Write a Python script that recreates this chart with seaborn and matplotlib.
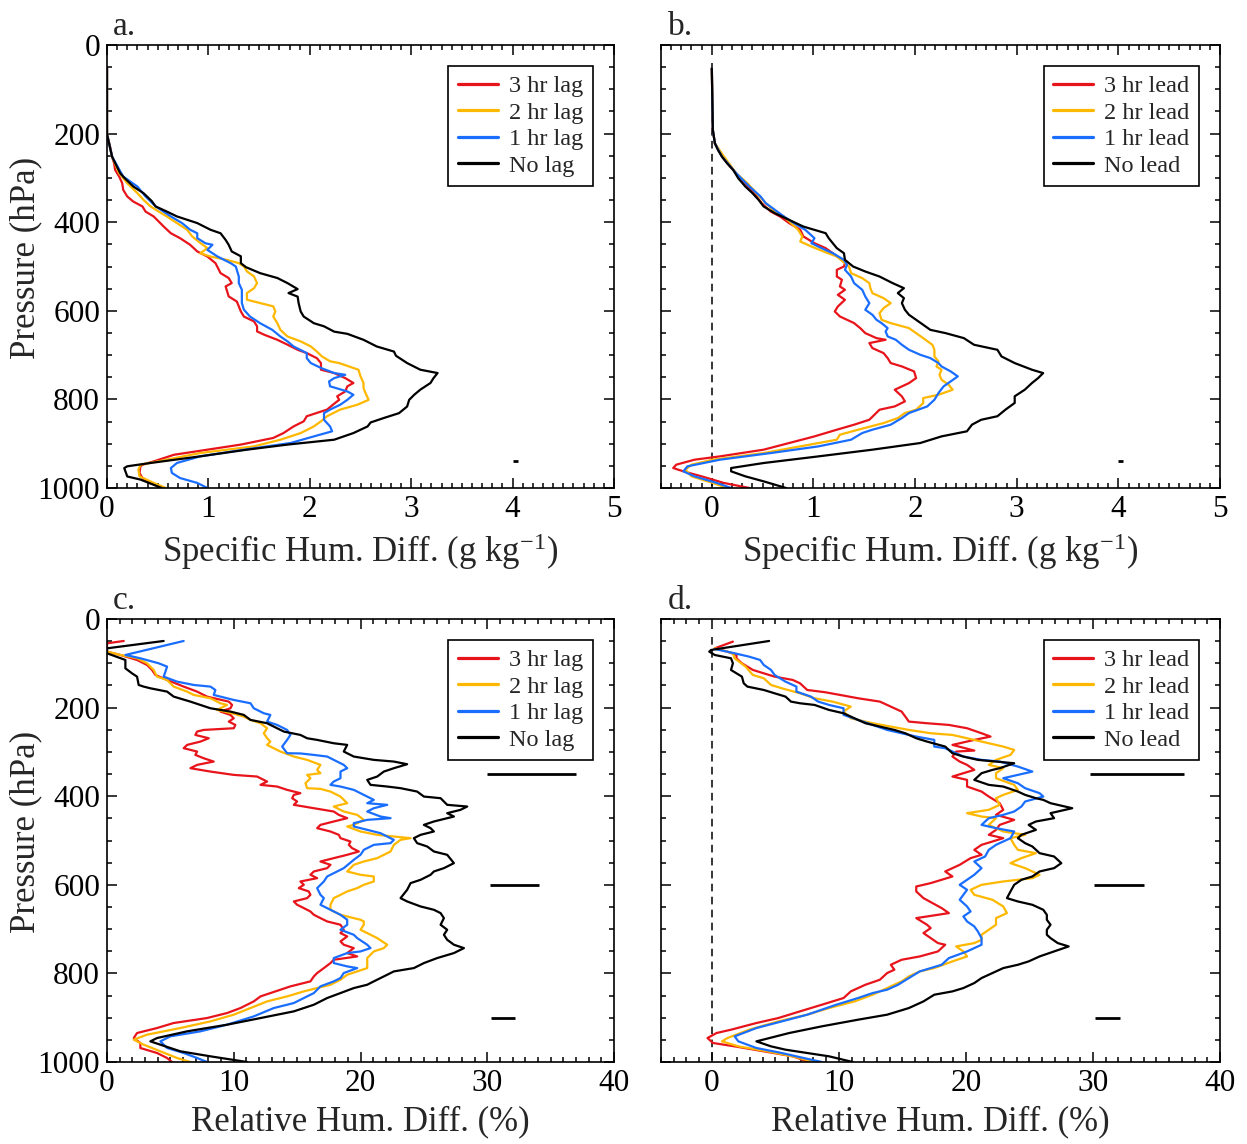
import numpy as np
import pandas as pd
import matplotlib
matplotlib.use("Agg")
import matplotlib.pyplot as plt
from matplotlib.lines import Line2D
from matplotlib.ticker import MultipleLocator, FixedLocator
import seaborn as sns

# ---------------- data: (pressure hPa, value) pairs ----------------
LAG_LABELS = ["3 hr lag", "2 hr lag", "1 hr lag", "No lag"]
LEAD_LABELS = ["3 hr lead", "2 hr lead", "1 hr lead", "No lead"]
COLORS = ["#E8141B", "#FFB800", "#1A6EFF", "#000000"]

# panel a: specific humidity difference (g/kg), lag
A_RED = [(51,0),(201.5,0),(229,0.03),(252,0.05),(267,0.07),(282,0.08),(297,0.12),(312,0.15),(327,0.16),(342,0.20),
         (353.5,0.26),(364.5,0.35),(376,0.38),(387,0.46),(398.5,0.51),(410,0.56),(425,0.63),(436,0.72),(451,0.82),(466,0.89),
         (477.5,0.99),(492.5,1.07),(501.5,1.09),(515,1.12),(526,1.20),(537.5,1.23),(545,1.17),(552.5,1.18),(567.5,1.20),(579,1.28),
         (590,1.30),(601.5,1.32),(613,1.35),(624,1.45),(635,1.48),(646.5,1.48),(654,1.55),(665.5,1.68),(676.5,1.78),(688,1.88),
         (695.5,1.97),(707,2.07),(718,2.11),(733,2.11),(740.5,2.24),(752,2.35),(763,2.43),(770.5,2.37),(782,2.35),(793,2.27),
         (801,2.29),(808,2.25),(823,2.17),(838,1.97),(849.5,1.94),(861,1.84),(876,1.74),(887,1.64),(902,1.32),(913.5,0.99),
         (925,0.66),(940,0.46),(947.5,0.35),(951,0.33),(966,0.32),(977.5,0.35),(988.5,0.43),(1000,0.56)]
A_ORANGE = [(51,0),(201.5,0),(252,0.05),(289.5,0.12),(312,0.20),(334.5,0.30),(349.5,0.36),(364.5,0.43),(376,0.51),(387,0.59),
            (402,0.69),(417,0.79),(432,0.84),(447,0.92),(458.5,0.99),(470,0.92),(477.5,1.02),(485,1.18),(492.5,1.30),(500,1.35),
            (511,1.38),(522.5,1.45),(537.5,1.48),(549,1.45),(560,1.38),(575,1.38),(582.5,1.51),(590,1.64),(601.5,1.66),(613,1.64),
            (628,1.68),(643,1.71),(658,1.78),(669,1.91),(680.5,2.01),(692,2.07),(703,2.12),(714,2.20),(718,2.29),(733,2.48),
            (748,2.50),(763,2.53),(774.5,2.53),(786,2.55),(801,2.58),(812,2.47),(823,2.30),(838,2.17),(849.5,2.11),(861,2.04),
            (876,1.91),(891,1.71),(906,1.45),(921,0.92),(936,0.59),(947.5,0.33),(958.5,0.31),(973.5,0.32),(988.5,0.46),(1000,0.58)]
A_BLUE = [(51,0),(201.5,0),(252,0.05),(297,0.16),(319.5,0.30),(342,0.38),(364.5,0.48),(387,0.63),(402,0.74),(417,0.82),
          (425,0.89),(436,0.89),(447.5,0.97),(451,1.04),(462.5,0.99),(477.5,1.09),(492.5,1.22),(500,1.27),(507.5,1.28),(522.5,1.30),
          (537.5,1.30),(552.5,1.33),(567.5,1.33),(582.5,1.33),(597.5,1.35),(613,1.41),(628,1.51),(643,1.63),(658,1.71),(669,1.78),
          (680.5,1.84),(695.5,1.97),(707,1.97),(718,2.01),(729,2.11),(740.5,2.24),(744.5,2.35),(752,2.24),(759.5,2.19),(770.5,2.20),
          (782,2.37),(789.5,2.43),(801,2.37),(812,2.30),(823,2.20),(831,2.14),(846,2.14),(861,2.20),(872,2.22),(883.5,2.04),
          (898.5,1.81),(913.5,1.35),(928.5,0.92),(943.5,0.69),(955,0.63),(966,0.64),(977.5,0.72),(988.5,0.89),(1000,0.99)]
A_BLACK = [(51,0),(201.5,0),(252,0.05),(289.5,0.13),(302,0.18),(319.5,0.26),(334.5,0.36),(352,0.44),(364.5,0.48),(376,0.59),
           (387,0.69),(402,0.89),(417,1.02),(425,1.12),(440,1.17),(451,1.20),(466,1.23),(477,1.32),(492.5,1.32),(501.5,1.37),
           (515,1.51),(526,1.68),(537.5,1.78),(551,1.88),(560,1.79),(568,1.88),(583,1.89),(601.5,1.91),(613,1.94),(628,2.04),
           (635,2.14),(647,2.24),(652,2.37),(665.5,2.53),(680.5,2.66),(692,2.83),(701.5,2.85),(718,2.96),(733,3.09),(740.5,3.26),
           (752,3.22),(763,3.19),(778,3.09),(789.5,3.03),(801,2.98),(816,2.96),(831,2.88),(842,2.73),(852,2.60),(861,2.57),
           (876,2.43),(891,2.24),(902,1.78),(913.5,1.38),(928.5,0.92),(943.5,0.43),(951,0.20),(955,0.17),(974,0.20),(981,0.33),
           (1000,0.54)]

# panel b: specific humidity difference (g/kg), lead
B_RED = [(52.6,0),(191.7,0.01),(221.8,0.03),(252,0.10),(282,0.21),(304.5,0.30),(327,0.39),(342,0.44),(357,0.49),(376,0.58),
         (387,0.67),(402,0.76),(417,0.87),(432,0.90),(447.4,1.01),(458.6,1.12),(470,1.19),(485,1.28),(492.5,1.31),(500,1.30),
         (507.5,1.23),(522.6,1.23),(530,1.28),(545,1.26),(552.6,1.31),(564,1.24),(575.2,1.31),(590.2,1.24),(601.5,1.21),(612.8,1.26),
         (620.3,1.33),(627.8,1.40),(639.1,1.46),(650.4,1.51),(661.7,1.62),(665.4,1.71),(672.9,1.55),(684.2,1.58),(695.5,1.69),(706.8,1.73),
         (718,1.76),(725.6,1.87),(736.8,1.99),(751.9,2.01),(763.2,1.94),(778.2,1.80),(793.2,1.87),(804.5,1.90),(815.8,1.80),(823.3,1.65),
         (834.6,1.60),(845.9,1.55),(857.1,1.40),(868.4,1.23),(883.5,1.01),(898.5,0.76),(913.5,0.51),(928.6,0.08),(936.1,-0.17),(947.4,-0.35),
         (954.9,-0.38),(962.4,-0.28),(973.7,-0.10),(988.7,0.12),(1000,0.37)]
B_ORANGE = [(52.6,0),(191.7,0.01),(221.8,0.03),(252,0.12),(289.5,0.24),(312,0.35),(334.6,0.44),(357,0.53),(375.9,0.62),(387.2,0.71),
            (402.3,0.78),(417.3,0.85),(432.3,0.89),(443.6,0.87),(454.9,0.98),(466.2,1.10),(477.4,1.23),(492.5,1.31),(500,1.35),(515,1.37),
            (526.3,1.48),(537.6,1.55),(548.9,1.56),(560.2,1.58),(571.4,1.69),(582.7,1.76),(594,1.69),(605.3,1.65),(620.3,1.67),(627.8,1.76),
            (639.1,1.94),(650.4,2.01),(661.7,2.08),(676.7,2.17),(688,2.19),(703,2.19),(714.3,2.23),(725.6,2.21),(733.1,2.26),(744.4,2.24),
            (755.6,2.26),(766.9,2.33),(778.2,2.37),(789.5,2.23),(797,2.08),(808.3,2.08),(823.3,2.01),(830.8,1.90),(842.1,1.83),(853.4,1.69),
            (868.4,1.44),(879.7,1.26),(891,1.23),(906,0.87),(921.1,0.51),(936.1,0.01),(947.4,-0.20),(958.6,-0.26),(973.7,-0.20),(988.7,0.01),
            (1000,0.15)]
B_BLUE = [(52.6,0),(191.7,0.01),(221.8,0.03),(252,0.10),(289.5,0.24),(319.5,0.37),(342,0.48),(357,0.53),(372,0.62),(387.2,0.71),
          (402.3,0.81),(417.3,0.92),(436.1,1.01),(447.4,0.98),(458.6,1.08),(469.9,1.19),(485,1.30),(496.2,1.33),(507.5,1.31),(522.6,1.37),
          (537.6,1.40),(552.6,1.48),(567.7,1.51),(582.7,1.55),(597.7,1.51),(609,1.58),(620.3,1.62),(627.8,1.67),(639.1,1.73),(646.6,1.71),
          (657.9,1.73),(665.4,1.81),(676.7,1.87),(688,1.94),(699.2,2.05),(706.8,2.15),(718,2.23),(725.6,2.26),(736.8,2.35),(748.1,2.42),
          (759.4,2.35),(770.7,2.28),(785.7,2.23),(800.8,2.19),(815.8,2.12),(830.8,1.94),(842.1,1.87),(857.1,1.76),(868.4,1.58),(875.9,1.48),
          (891,1.37),(906,1.05),(921.1,0.58),(936.1,0.08),(951.1,-0.24),(962.4,-0.28),(973.7,-0.17),(988.7,0.05),(1000,0.19)]
B_BLACK = [(52.6,0),(191.7,0.01),(221.8,0.03),(236.8,0.06),(252,0.10),(267,0.15),(282,0.21),(300.8,0.26),(319.5,0.33),(334.5,0.40),
           (349.5,0.46),(364.5,0.51),(379.7,0.62),(394.7,0.76),(409.8,0.90),(417.3,1.01),(424.8,1.12),(436,1.15),(447.4,1.19),(458.6,1.23),
           (470,1.30),(485,1.31),(500,1.39),(511.3,1.51),(522.6,1.65),(537.6,1.78),(548.9,1.89),(560,1.83),(571.4,1.89),(582.7,1.87),
           (597.7,1.90),(609,1.94),(620.3,2.01),(631.6,2.08),(643,2.15),(650.4,2.30),(661.7,2.48),(676.7,2.58),(688,2.81),(703,2.85),
           (718,2.98),(733,3.15),(740.6,3.26),(752,3.21),(763,3.15),(778,3.08),(793,2.98),(808,2.98),(823,2.89),(838,2.81),
           (846,2.65),(857,2.56),(872,2.51),(883.5,2.26),(898.5,2.05),(913.5,1.58),(928.6,1.05),(943.6,0.51),(954.9,0.19),(962.4,0.19),
           (973.7,0.33),(985,0.51),(1000,0.73)]

# panel c: relative humidity difference (%), lag
C_RED = [(49.6,1.32),(54.9,0),(73.7,0),(81.2,1.05),(92.5,2.37),(103.8,3.16),(115,3.55),(126.3,3.82),(137.6,4.74),(152.6,6.05),
         (163.9,7.11),(175.2,7.89),(186.5,9.61),(194,9.87),(201.5,9.74),(209,8.95),(216.5,9.74),(224.1,10.0),(231.6,9.61),(239.1,10.13),
         (246.6,10.0),(250.4,7.63),(254.1,7.11),(261.7,6.97),(269.2,8.03),(276.7,7.37),(284.2,6.32),(291.7,6.05),(299.2,7.11),(306.8,6.97),
         (314.3,7.63),(321.8,8.42),(329.3,7.11),(336.8,6.58),(344.4,8.16),(351.9,10.0),(355.6,11.84),(366.9,12.63),(374.4,12.11),(378.2,13.42),
         (385.7,14.21),(393.2,15.26),(397,14.74),(404.5,14.61),(412,15.0),(419.5,14.74),(427.1,16.32),(434.6,17.89),(442.1,18.29),(449.6,18.95),
         (457.1,17.89),(464.7,16.84),(472.2,16.58),(479.7,17.63),(487.2,18.29),(494.7,18.42),(502.3,19.21),(509.8,19.08),(517.3,19.34),(524.8,19.87),
         (532.3,18.95),(539.8,17.89),(547.4,16.84),(554.9,17.63),(562.4,17.37),(569.9,16.32),(577.4,16.05),(585,16.58),(592.5,15.26),(600,15.53),
         (607.5,15.13),(615,15.92),(622.6,16.05),(630.1,15.79),(637.6,14.74),(645.1,15.0),(652.6,15.53),(660.2,16.05),(667.7,16.32),(675.2,16.84),
         (682.7,17.37),(690.2,18.42),(701.5,18.68),(709,18.42),(716.5,18.95),(727.8,18.42),(735.3,18.68),(742.9,19.47),(754.1,18.95),(761.7,19.74),
         (769.2,17.89),(776.7,17.63),(788,17.11),(799.2,16.58),(806.8,16.32),(818,16.05),(829.3,14.47),(840.6,13.29),(851.9,12.11),(863.2,11.58),
         (878.2,10.53),(889.5,9.47),(900.8,7.89),(912,5.26),(923.3,3.95),(934.6,2.37),(945.9,2.11),(957.1,2.63),(968.4,2.63),(979.7,3.95),
         (991,4.74),(1000,5.13)]
C_ORANGE = [(73.7,0),(81.2,1.05),(88.7,2.37),(100,3.16),(115,3.68),(130.1,3.95),(137.6,4.74),(152.6,5.26),(163.9,6.32),(171.4,6.84),
            (178.9,8.16),(190.2,8.95),(194,9.47),(205.3,8.68),(212.8,9.87),(220.3,10.79),(227.8,11.32),(235.3,12.11),(246.6,12.63),(257.9,12.37),
            (269.2,12.63),(276.7,12.89),(284.2,12.63),(299.2,13.68),(310.5,14.74),(318,15.79),(329.3,16.84),(340.6,16.58),(348.1,16.84),(351.9,15.79),
            (359.4,16.05),(370.7,15.66),(381.9,15.79),(383.5,16.84),(389.5,17.63),(400.8,18.42),(415.8,18.95),(423.3,17.89),(434.6,18.68),(442.1,19.74),
            (453.4,20.26),(464.7,19.47),(468.4,18.95),(479.7,20.0),(487.2,21.32),(491,22.63),(494.7,23.95),(498.5,23.16),(509.8,22.63),(524.8,22.37),
            (539.8,21.32),(547.4,20.26),(554.9,19.47),(562.4,19.21),(569.9,18.95),(577.4,20.0),(581.2,21.05),(592.5,21.05),(600,20.26),(607.5,19.74),
            (615,18.95),(622.6,18.42),(630.1,17.89),(645.1,17.63),(656.4,17.63),(667.7,18.42),(675.2,19.47),(678.9,20.0),(682.7,20.26),(690.2,20.26),
            (701.5,20.0),(709,20.53),(720.3,21.32),(735.3,22.11),(742.9,21.84),(750.4,21.05),(765.4,20.53),(780.5,20.53),(788,20.53),(795.5,19.74),
            (803,18.95),(814.3,18.42),(825.6,17.63),(833.1,16.58),(840.6,15.53),(851.9,14.21),(863.2,12.63),(878.2,11.32),(893.2,10.0),(908.3,8.16),
            (923.3,5.79),(938.3,3.16),(949.6,2.11),(960.9,2.89),(975.9,4.21),(991,5.53),(1000,6.58)]
C_BLUE = [(49.6,6.05),(81.2,1.45),(88.7,2.63),(100,4.08),(107.5,4.74),(118.8,4.61),(130.1,4.47),(141.4,5.53),(148.9,6.84),(152.6,8.16),
          (160.2,8.55),(171.4,8.42),(178.9,9.47),(182.7,10.0),(190.2,11.32),(201.5,11.58),(212.8,12.37),(216.5,12.89),(231.6,12.63),(239.1,13.42),
          (250.4,14.21),(261.7,14.47),(272.9,14.21),(288,13.82),(303,14.21),(303.5,15.26),(306.8,16.32),(310.5,17.37),(318,17.89),(329.3,18.68),
          (336.8,18.95),(344.4,18.42),(359.4,18.42),(366.9,17.89),(374.4,17.63),(378.2,18.42),(385.7,19.47),(397,20.26),(408.3,21.05),(415.8,20.53),
          (419.5,22.11),(427.1,21.05),(434.6,20.53),(445.9,21.58),(449.6,22.37),(453.4,20.53),(460.9,19.47),(468.4,19.47),(475.9,20.53),(483.5,21.58),
          (498.5,22.63),(506,22.37),(509.8,21.05),(521.1,20.26),(532.3,20.0),(543.6,19.47),(562.4,18.68),(569.9,18.16),(581.2,17.37),(592.5,17.11),
          (607.5,16.58),(622.6,16.84),(630.1,17.11),(645.1,16.84),(656.4,17.63),(667.7,18.42),(678.9,18.95),(690.2,18.95),(701.5,18.42),(712.8,19.47),
          (720.3,19.74),(735.3,20.53),(742.9,20.79),(750.4,20.0),(754.1,18.95),(765.4,17.89),(776.7,17.89),(784.2,18.95),(788,19.74),(799.2,18.68),
          (810.5,18.42),(818,17.89),(829.3,16.84),(844.4,16.32),(855.6,15.53),(866.9,14.74),(878.2,13.16),(897,11.58),(915.8,9.47),(930.8,7.37),
          (942.1,5.0),(953.4,4.21),(968.4,4.74),(979.7,6.05),(991,7.11),(1000,7.89)]
C_BLACK = [(49.6,4.47),(66.2,0),(77.4,0),(92.5,1.45),(111.3,1.45),(122.6,1.97),(130.1,2.37),(148.9,2.5),(152.6,2.89),(156.4,3.42),
           (163.9,4.74),(175.2,5.26),(186.5,6.58),(201.5,8.16),(209,9.74),(216.5,10.79),(227.8,11.32),(235.3,12.63),(246.6,13.42),(254.1,13.95),
           (261.7,15.26),(269.2,15.79),(272.9,16.58),(280.5,17.89),(284.2,18.95),(299.2,18.68),(310.5,19.47),(318,21.05),(321.8,22.63),(327.8,23.68),
           (336.8,22.63),(344.4,21.84),(355.6,21.32),(363.2,20.53),(374.4,20.79),(378.2,22.11),(381.9,23.16),(389.5,24.47),(400.8,25.0),(404.5,26.32),
           (419.5,26.84),(423.3,28.42),(430.8,27.89),(438.3,26.84),(445.9,27.37),(457.1,25.79),(464.7,25.0),(472.2,25.53),(479.7,25.79),(487.2,24.74),
           (494.7,24.21),(506,24.47),(513.5,25.26),(524.8,25.79),(532.3,26.84),(551.1,27.37),(562.4,26.58),(569.9,25.79),(577.4,25.53),(588.7,24.74),
           (596.2,23.95),(611.3,23.68),(630.1,23.16),(637.6,23.68),(648.9,24.74),(656.4,25.79),(663.9,26.32),(675.2,26.58),(690.2,26.32),(701.5,26.84),
           (712.8,26.58),(724.1,26.84),(735.3,27.37),(742.9,28.16),(754.1,27.37),(765.4,26.05),(776.7,25.0),(788,24.21),(795.5,22.63),(803,22.11),
           (818,21.05),(825.6,20.53),(833.1,19.47),(844.4,18.42),(855.6,17.37),(870.7,16.32),(885.7,14.74),(900.8,12.11),(915.8,9.47),(930.8,6.32),
           (945.9,3.95),(953.4,3.42),(960.9,4.21),(975.9,5.79),(987.2,8.16),(1000,11.05)]

# panel d: relative humidity difference (%), lead
D_RED = [(51.1,1.66),(66.2,0.23),(73.7,1.23),(81.2,1.94),(88.7,1.94),(100,2.37),(115,3.23),(122.6,4.09),(130.1,4.94),(137.6,6.37),
         (145.1,6.94),(160.2,7.51),(165.4,8.94),(171.4,10.09),(178.9,11.51),(186.5,13.23),(194,13.8),(201.5,14.37),(209,14.94),(220.3,15.23),
         (231.6,15.51),(235.3,16.94),(239.1,18.66),(246.6,20.09),(257.9,21.23),(265.4,21.94),(272.9,20.66),(284.2,18.94),(297,20.66),(299.2,19.23),
         (310.5,18.94),(321.8,19.51),(329.3,20.09),(340.6,20.66),(355.6,18.94),(363.2,20.09),(378.2,20.09),(389.5,21.23),(400.8,21.8),(415.8,22.66),
         (430.8,22.94),(442.1,22.37),(453.4,23.8),(464.7,22.66),(476,22.37),(487.2,21.8),(494.7,22.94),(502.3,22.09),(509.8,21.23),(521.1,20.66),
         (532.3,21.23),(539.8,20.37),(554.9,19.51),(569.9,18.37),(581.2,18.94),(588.7,18.09),(596.2,17.23),(603.8,16.09),(615,16.09),(630.1,16.66),
         (652.6,18.09),(663.9,18.66),(675.2,16.09),(690.2,16.94),(697.7,17.23),(709,16.66),(720.3,17.23),(731.6,17.8),(735.3,18.37),(750.4,17.8),
         (761.7,16.37),(769.2,14.94),(780.5,14.09),(791.7,14.37),(799.2,13.8),(814.3,13.23),(825.6,12.09),(840.6,10.94),(855.6,10.37),(870.7,8.66),
         (885.7,6.94),(900.8,5.23),(912,3.51),(927.1,1.51),(934.6,0.37),(945.9,-0.34),(957.1,0.09),(964.7,1.8),(975.9,4.09),(987.2,6.37),
         (1000,7.66)]
D_ORANGE = [(66.2,0.23),(77.4,1.66),(88.7,1.8),(107.5,2.66),(126.3,3.23),(133.8,4.09),(148.9,4.66),(156.4,5.51),(167.7,6.94),(178.9,8.09),
            (186.5,9.51),(197.7,10.94),(209,10.37),(224.1,10.94),(235.3,12.66),(242.9,14.09),(250.4,15.51),(257.9,17.23),(261.7,18.94),(269.2,20.09),
            (276.7,21.23),(288,22.94),(295.5,23.8),(306.8,23.51),(318,22.37),(329.3,21.8),(336.8,22.94),(348.1,22.37),(359.4,22.37),(374.4,23.8),
            (385.7,24.09),(397,22.94),(404.5,22.37),(419.5,22.66),(430.8,21.8),(438.3,20.09),(445.9,21.23),(449.6,22.37),(464.7,21.8),(479.7,22.94),
            (487.2,24.66),(494.7,23.51),(509.8,23.8),(521.1,24.09),(528.6,25.51),(539.8,24.37),(551.1,23.51),(562.4,24.66),(577.4,25.8),(585,25.23),
            (592.5,22.94),(600,21.23),(611.3,20.37),(622.6,20.66),(633.8,22.09),(648.9,22.94),(663.9,23.23),(675.2,22.37),(690.2,22.37),(701.5,21.8),
            (712.8,21.23),(724.1,21.23),(731.6,20.66),(739.1,19.23),(750.4,19.8),(761.7,20.09),(772.9,18.94),(788,17.51),(795.5,16.37),(806.8,15.51),
            (818,14.94),(833.1,13.8),(848.1,12.66),(863.2,11.23),(878.2,9.23),(893.2,7.51),(908.3,5.23),(927.1,2.94),(945.9,1.23),(953.4,0.8),
            (964.7,2.09),(975.9,4.37),(987.2,6.37),(1000,8.09)]
D_BLUE = [(67.7,0.23),(77.4,1.8),(85,2.94),(92.5,3.8),(103.8,4.09),(115,4.66),(126.3,4.94),(141.4,5.8),(152.6,6.66),(163.9,6.66),
          (175.2,7.8),(186.5,8.37),(194,9.23),(201.5,10.37),(216.5,10.37),(227.8,11.51),(239.1,12.66),(250.4,13.8),(257.9,14.94),(265.4,16.09),
          (272.9,17.51),(288,17.51),(291.7,18.37),(303,19.23),(310.5,19.8),(318,21.23),(321.8,22.66),(333.1,24.09),(344.4,25.23),(351.9,24.09),
          (359.4,22.94),(370.7,24.09),(381.9,24.66),(393.2,25.8),(400.8,26.09),(412,24.66),(423.3,24.37),(434.6,23.8),(442.1,22.94),(449.6,21.8),
          (464.7,21.23),(472.2,22.37),(479.7,23.8),(494.7,23.51),(509.8,22.37),(521.1,21.8),(536.1,21.51),(547.4,20.66),(562.4,21.23),(577.4,20.66),
          (588.7,20.09),(600,19.51),(611.3,20.09),(622.6,19.8),(633.8,19.51),(648.9,20.09),(660.2,20.37),(671.4,19.8),(682.7,20.09),(694,20.66),
          (705.3,20.94),(720.3,21.23),(735.3,21.23),(750.4,20.09),(765.4,18.66),(780.5,18.09),(788,17.23),(795.5,16.37),(810.5,15.51),(825.6,14.66),
          (836.8,13.8),(844.4,12.66),(855.6,11.51),(870.7,9.8),(893.2,7.51),(908.3,5.51),(923.3,3.51),(942.1,1.8),(953.4,2.09),(968.4,3.51),
          (979.7,5.51),(991,7.23),(1000,8.66)]
D_BLACK = [(49.6,4.51),(69.9,-0.06),(73.7,-0.2),(81.2,0.23),(88.7,1.51),(100,1.66),(115,1.51),(122.6,1.94),(130.1,2.37),(145.1,2.51),
           (152.6,2.8),(160.2,4.09),(167.7,4.94),(175.2,5.8),(186.5,6.23),(190.2,6.94),(194,8.09),(205.3,9.23),(212.8,10.37),(224.1,11.23),
           (235.3,12.09),(242.9,13.23),(250.4,14.37),(257.9,15.23),(269.2,16.09),(276.7,16.94),(288,18.37),(303,18.94),(310.5,19.8),(318,20.94),
           (321.8,22.37),(325.6,23.8),(336.8,22.66),(340.6,22.09),(348.1,21.23),(363.2,20.66),(374.4,21.8),(378.2,22.94),(389.5,24.09),(397,24.66),
           (404.5,25.51),(408.3,26.09),(415.8,26.66),(427.1,28.37),(438.3,26.66),(449.6,26.94),(457.1,25.51),(464.7,24.94),(476,25.51),(487.2,24.37),
           (494.7,24.09),(506,24.66),(513.5,25.23),(528.6,25.8),(536.1,26.94),(551.1,27.51),(562.4,26.94),(569.9,25.8),(581.2,25.23),(588.7,24.37),
           (600,23.8),(615,23.51),(630.1,23.23),(637.6,24.09),(645.1,25.23),(656.4,26.09),(667.7,26.37),(678.9,26.37),(690.2,26.66),(701.5,26.37),
           (712.8,26.37),(720.3,26.66),(731.6,27.23),(739.1,28.09),(750.4,26.94),(761.7,25.8),(772.9,24.94),(780.5,24.09),(788,22.94),(795.5,22.37),
           (810.5,21.23),(821.8,20.66),(833.1,19.8),(840.6,18.94),(848.1,17.51),(863.2,16.66),(878.2,15.51),(893.2,13.8),(904.5,11.51),(919.5,8.66),
           (934.6,6.09),(953.4,3.51),(964.7,4.66),(972.2,5.8),(979.7,7.51),(987.2,9.23),(1000,11.09)]

# short black reference bars (pressure, x start, x end)
BARS_A = [(940, 4.0, 4.05)]
BARS_B = [(940, 4.0, 4.05)]
BARS_C = [(350, 30.0, 37.0), (600, 30.2, 34.1), (900, 30.3, 32.2)]
BARS_D = [(350, 29.8, 37.2), (600, 30.1, 34.0), (900, 30.2, 32.1)]

# ---------------- style ----------------
sns.set_style("ticks")
plt.rcParams["font.family"] = ["Liberation Serif", "DejaVu Serif"]
plt.rcParams["mathtext.fontset"] = "custom"
plt.rcParams["mathtext.rm"] = "Liberation Serif"
plt.rcParams["mathtext.it"] = "Liberation Serif:italic"
plt.rcParams["axes.linewidth"] = 1.2

W, H = 1247, 1144
fig = plt.figure(figsize=(W / 100, H / 100), dpi=100)
fig.patch.set_facecolor("white")


def px_axes(left, top, right, bottom):
    return fig.add_axes([left / W, 1 - bottom / H, (right - left) / W, (bottom - top) / H])


def draw(ax, series, labels, xlim, xticks, xminor, xlabel, letter, bars, zero_line, ylabel):
    frames = []
    for lab, pairs in zip(labels, series):
        d = pd.DataFrame(pairs, columns=["pressure", "value"])
        d["series"] = lab
        frames.append(d)
    df = pd.concat(frames, ignore_index=True)
    if zero_line:
        ax.vlines(0, 40, 1000, colors="black", linestyles=(0, (5, 3.5)), linewidth=1.1, zorder=1)
    sns.lineplot(data=df, x="value", y="pressure", hue="series", hue_order=labels,
                 palette=COLORS, estimator=None, sort=False, orient="y",
                 linewidth=1.6, ax=ax, legend=False)
    for p, x0, x1 in bars:
        ax.hlines(p, x0, x1, colors="black", linewidth=2.0)

    ax.set_xlim(*xlim)
    ax.set_ylim(1000, 0)
    ax.xaxis.set_major_locator(FixedLocator(xticks))
    ax.xaxis.set_minor_locator(MultipleLocator(xminor))
    ax.yaxis.set_major_locator(MultipleLocator(200))
    ax.yaxis.set_minor_locator(MultipleLocator(50))
    ax.tick_params(which="both", direction="in", top=True, right=True,
                   labelsize=22.5, width=1.1, colors="black")
    ax.tick_params(which="major", length=7.5, pad=5)
    ax.tick_params(which="minor", length=3.8)
    for s in ax.spines.values():
        s.set_visible(True)
        s.set_color("black")
        s.set_linewidth(1.2)

    ax.set_xlabel(xlabel, fontsize=25)
    ax.xaxis.set_label_coords(0.5, -0.098)
    if ylabel:
        ax.set_ylabel("Pressure (hPa)", fontsize=25)
        ax.yaxis.set_label_coords(-0.128, 0.52)
    else:
        ax.set_ylabel("")
        ax.set_yticklabels([])

    ax.text(0.012, 1.022, letter, transform=ax.transAxes, fontsize=24,
            ha="left", va="baseline")

    handles = [Line2D([], [], color=c, linewidth=2.3) for c in COLORS]
    leg = ax.legend(handles, labels, loc="upper right", fontsize=17.5, frameon=True,
                    fancybox=False, framealpha=1, edgecolor="black",
                    handlelength=1.65, handletextpad=0.45, borderpad=0.4,
                    labelspacing=0.18, borderaxespad=0.85)
    leg.get_frame().set_linewidth(1.2)


SH_LABEL = r"Specific Hum. Diff. (g kg$^{\mathrm{-1}}$)"
RH_LABEL = "Relative Hum. Diff. (%)"

ax_a = px_axes(107, 45, 614, 488)
ax_b = px_axes(661, 45, 1220, 488)
ax_c = px_axes(107, 619, 614, 1062)
ax_d = px_axes(661, 619, 1220, 1062)

draw(ax_a, [A_RED, A_ORANGE, A_BLUE, A_BLACK], LAG_LABELS, (0, 5), [0, 1, 2, 3, 4, 5], 0.1,
     SH_LABEL, "a.", BARS_A, False, True)
draw(ax_b, [B_RED, B_ORANGE, B_BLUE, B_BLACK], LEAD_LABELS, (-0.5, 5), [0, 1, 2, 3, 4, 5], 0.1,
     SH_LABEL, "b.", BARS_B, True, False)
draw(ax_c, [C_RED, C_ORANGE, C_BLUE, C_BLACK], LAG_LABELS, (0, 40), [0, 10, 20, 30, 40], 1,
     RH_LABEL, "c.", BARS_C, False, True)
draw(ax_d, [D_RED, D_ORANGE, D_BLUE, D_BLACK], LEAD_LABELS, (-4, 40), [0, 10, 20, 30, 40], 1,
     RH_LABEL, "d.", BARS_D, True, False)

fig.savefig("out.png", dpi=100, facecolor="white")
